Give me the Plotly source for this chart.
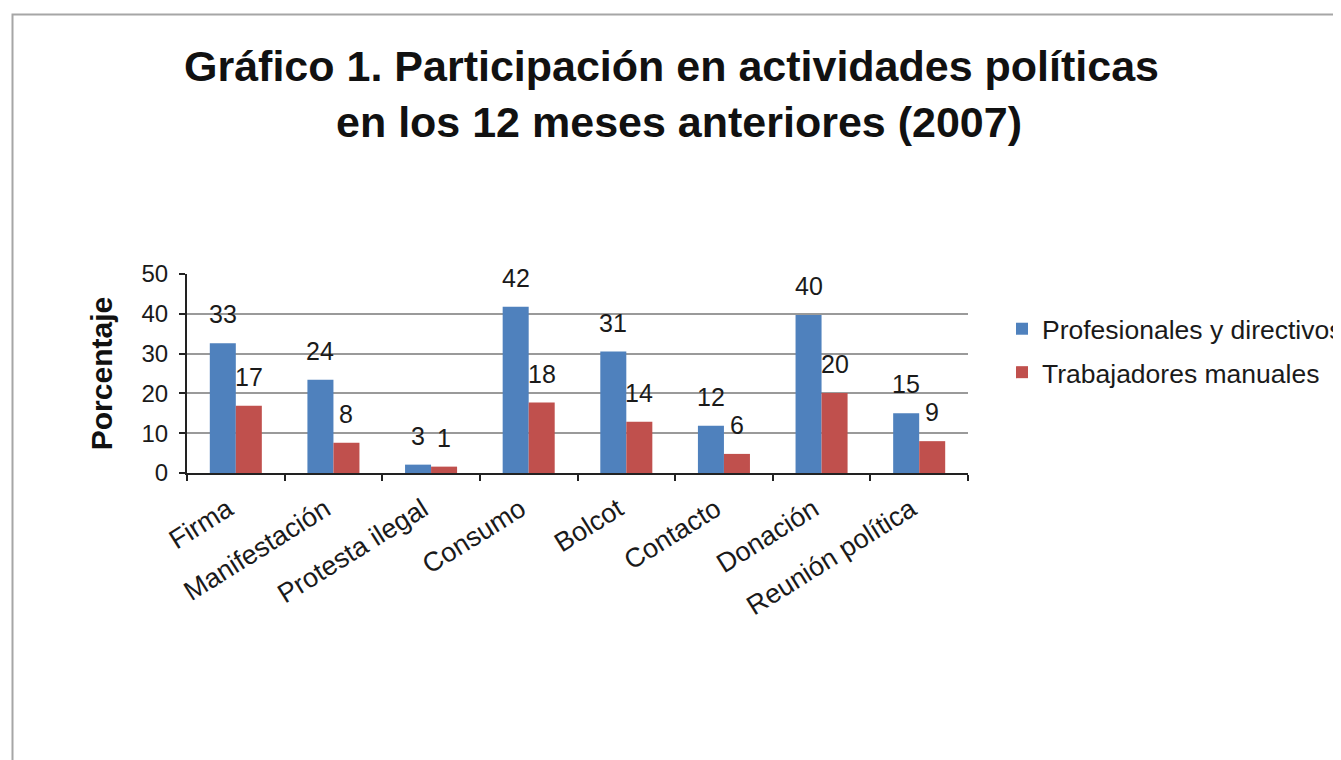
import plotly.graph_objects as go

categories = ["Firma", "Manifestación", "Protesta ilegal", "Consumo", "Boicot",
              "Contacto", "Donación", "Reunión política"]
tick_labels = ["Firma", "Manifestación", "Protesta ilegal", "Consumo", "Bolcot",
               "Contacto", "Donación", "Reunión política"]
series_names = ["Profesionales y directivos", "Trabajadores manuales"]
profesionales = [32.6, 23.4, 2.1, 41.8, 30.5, 11.9, 39.7, 15.0]
trabajadores = [16.9, 7.6, 1.6, 17.7, 12.9, 4.8, 20.1, 8.0]
label_prof = ["33", "24", "3", "42", "31", "12", "40", "15"]
label_trab = ["17", "8", "1", "18", "14", "6", "20", "9"]
y_ticks = [0, 10, 20, 30, 40, 50]

FONT = "Liberation Sans, Arial, sans-serif"
BLUE = "#4F81BD"
RED = "#C0504D"

OFF = 8  # page body margin
W, H = 1341 - OFF, 760 - OFF
PW, PH = 781, 199
ML = 187 - OFF
MT = 274 - OFF
MR = W - ML - PW
MB = H - MT - PH

def px_x(px):
    return (px - OFF - ML) / PW

def px_y(py):
    return (MT + PH - (py - OFF)) / PH

fig = go.Figure()
fig.add_trace(go.Bar(x=categories, y=profesionales, name=series_names[0],
                     marker=dict(color=BLUE, line=dict(width=0)),
                     legendgroup="a"))
fig.add_trace(go.Bar(x=categories, y=trabajadores, name=series_names[1],
                     marker=dict(color=RED, line=dict(width=0)),
                     legendgroup="b"))

bargap = 0.467
half = (1 - bargap) / 4
annotations = []
for i in range(len(categories)):
    for vals, labs, off in ((profesionales, label_prof, -half), (trabajadores, label_trab, half)):
        annotations.append(dict(x=i + off, y=vals[i], xref="x", yref="y",
                                text=labs[i], showarrow=False, yanchor="bottom",
                                yshift=13, font=dict(family=FONT, size=25, color="#1a1a1a")))

annotations.append(dict(x=px_x(671), y=px_y(92), xref="paper", yref="paper",
                        text="<b>Gráfico 1. Participación en actividades políticas</b>",
                        showarrow=False, xanchor="center", yanchor="bottom",
                        font=dict(family=FONT, size=43, color="#111")))
annotations.append(dict(x=px_x(679), y=px_y(148), xref="paper", yref="paper",
                        text="<b>en los 12 meses anteriores (2007)</b>",
                        showarrow=False, xanchor="center", yanchor="bottom",
                        font=dict(family=FONT, size=43, color="#111")))

fig.update_layout(
    width=W, height=H,
    margin=dict(l=ML, r=MR, t=MT, b=MB, autoexpand=False),
    paper_bgcolor="white", plot_bgcolor="white",
    barmode="group", bargap=bargap, bargroupgap=0,
    showlegend=True,
    legend=dict(x=px_x(1002), y=px_y(305), xanchor="left", yanchor="top",
                font=dict(family=FONT, size=26.5, color="#1a1a1a"),
                itemwidth=30, tracegroupgap=6, bgcolor="rgba(0,0,0,0)"),
    annotations=annotations,
    shapes=[dict(type="rect", xref="paper", yref="paper",
                 x0=px_x(12.5), x1=px_x(1380), y0=px_y(14.5), y1=px_y(800),
                 line=dict(color="#a6a6a6", width=2), fillcolor="rgba(0,0,0,0)",
                 layer="below")],
)

fig.update_xaxes(
    type="category", categoryorder="array", categoryarray=categories,
    tickmode="array", tickvals=categories, ticktext=tick_labels,
    tickangle=-32, tickfont=dict(family=FONT, size=27, color="#1a1a1a"),
    ticklabelstandoff=8, ticklabelshift=-8,
    showline=True, linecolor="#222", linewidth=2,
    ticks="outside", tickson="boundaries", ticklen=6, tickcolor="#222", tickwidth=2,
    showgrid=False, zeroline=False,
)
fig.update_yaxes(
    range=[0, 50], tickmode="array", tickvals=y_ticks,
    tickfont=dict(family=FONT, size=24, color="#1a1a1a"),
    showline=True, linecolor="#222", linewidth=2,
    ticks="outside", ticklen=6, tickcolor="#222", tickwidth=2,
    showgrid=True, gridcolor="#9a9a9a", gridwidth=1.5, zeroline=False,
    ticklabelstandoff=6,
    title=dict(text="<b>Porcentaje</b>", standoff=20,
               font=dict(family=FONT, size=30, color="#111")),
)

fig.write_html("out.html")
